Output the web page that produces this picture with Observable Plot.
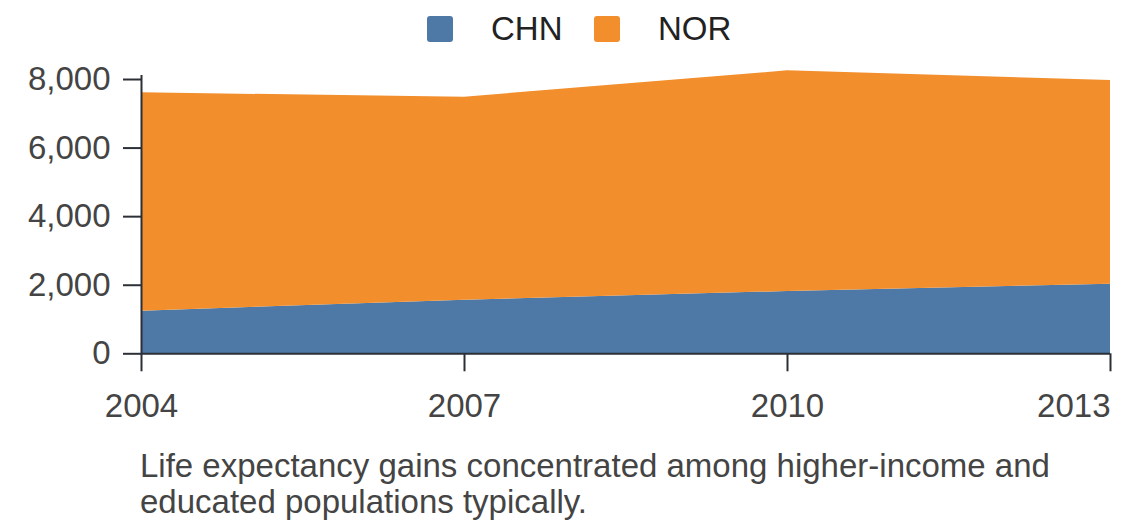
<!DOCTYPE html>
<html>
<head>
<meta charset="utf-8">
<script src="https://cdn.jsdelivr.net/npm/d3@7"></script>
<script src="https://cdn.jsdelivr.net/npm/@observablehq/plot@0.6"></script>
<style>
  html, body { margin: 0; padding: 0; background: #fff; }
  body { width: 1140px; height: 528px; position: relative; overflow: hidden;
         font-family: "Liberation Sans", Arial, sans-serif; }
  #legend { position: absolute; left: 0; top: 0; width: 1140px; height: 60px; }
  .item { position: absolute; top: 0; height: 60px; display: flex; align-items: center; }
  .sw { width: 26px; height: 26px; border-radius: 3px; margin-top: -2px; }
  .lab { font-size: 33px; color: #222; margin-left: 38px; margin-top: -2px; }
  #chart { position: absolute; left: 0; top: 60px; }
  #caption { position: absolute; left: 140px; top: 448px; width: 970px;
             font-size: 33px; line-height: 36px; color: #444; }
</style>
</head>
<body>
<div id="legend"></div>
<div id="chart"></div>
<div id="caption"></div>
<script>
const years = [2004, 2007, 2010, 2013];
const countries = ["CHN", "NOR"];
const colors = ["#4e79a7", "#f28e2b"];
const chnValues = [1242, 1565, 1817, 2030];
const norValues = [6370, 5919, 6436, 5940];
const yTicks = [0, 2000, 4000, 6000, 8000];
const captionText = "Life expectancy gains concentrated among higher-income and educated populations typically.";

const series = {CHN: chnValues, NOR: norValues};
const data = [];
years.forEach((yr, i) => {
  countries.forEach(c => data.push({year: yr, country: c, value: series[c][i]}));
});

// legend
const legend = document.getElementById("legend");
const legendX = [427, 594];
countries.forEach((c, i) => {
  const it = document.createElement("div");
  it.className = "item";
  it.style.left = legendX[i] + "px";
  it.innerHTML = `<div class="sw" style="background:${colors[i]}"></div><div class="lab">${c}</div>`;
  legend.appendChild(it);
});

const axisColor = "#2b2f36";
const textColor = "#444";

const chart = Plot.plot({
  width: 1140,
  height: 380,
  marginTop: 15,
  marginBottom: 86.7,
  marginLeft: 141,
  marginRight: 30,
  style: {fontFamily: '"Liberation Sans", Arial, sans-serif', fontSize: "33px", background: "white"},
  x: {type: "linear", domain: [years[0], years[years.length - 1]]},
  y: {domain: [0, 8117]},
  color: {domain: countries, range: colors},
  marks: [
    Plot.areaY(data, {x: "year", y: "value", fill: "country", z: "country"}),
    Plot.ruleY([0], {stroke: axisColor, strokeWidth: 2}),
    Plot.ruleX([years[0]], {stroke: axisColor, strokeWidth: 2}),
    Plot.axisY({ticks: yTicks, tickFormat: d3.format(","), tickSize: 18, tickPadding: 13,
                stroke: axisColor, strokeWidth: 2, color: textColor, fontSize: 33, label: null}),
    Plot.axisX({ticks: years.slice(0, -1), tickFormat: d => String(d), tickSize: 18, tickPadding: 22,
                stroke: axisColor, strokeWidth: 2, color: textColor, fontSize: 33, label: null}),
    Plot.axisX({ticks: years.slice(-1), tickFormat: d => String(d), tickSize: 18, tickPadding: 22,
                textAnchor: "end", stroke: axisColor, strokeWidth: 2, color: textColor, fontSize: 33, label: null})
  ]
});
document.getElementById("chart").appendChild(chart);
document.getElementById("caption").textContent = captionText;
</script>
</body>
</html>
